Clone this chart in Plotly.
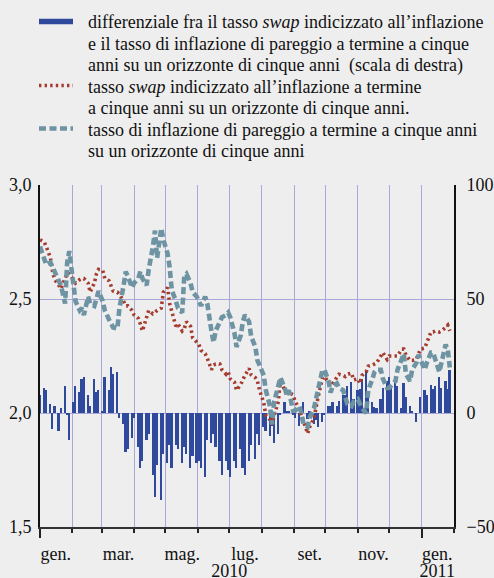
import pandas as pd
import plotly.graph_objects as go

# ---------------- data ----------------
# observations every second business day, Jan 2010 - Jan 2011
dates = pd.bdate_range("2010-01-01", "2011-01-31")[::2]

# spread in basis points (right scale)
spread_bp = [
    8, 11, 10, 4, -7, 3, -8, 2, 12, -1,
    -12, 5, 12, 9, 15, 16, 8, 3, 15, 9,
    10, 1, 16, 10, 20, 17, 18, -2, -5, -17,
    -16, -11, -2, -15, -24, -21, -12, -9, -27, -37,
    -23, -38, -18, -22, -14, -24, -14, -16, -22, -15,
    -18, -24, -19, -22, -21, -24, -28, -12, -13, -9,
    -15, -21, -27, -21, -25, -28, -21, -24, -16, -24,
    -27, -21, -14, -20, -9, -14, -6, -8, -10, -5.5,
    -13, -9, -1, 4.7, 0.5, 1, -1, -2, -5.5, 0.5,
    4.7, -2.6, 1, -5, -3, -6, -4, -1, 3, 3,
    4.7, 3, 5.4, 8, 8, 12, 13.5, 6, 10, 10.5,
    15, 19, 8, 5, 2.5, 2, 6, 11, 14, 15.6,
    11, 15.6, 12, 2, 13, 7, 3, 1, -4, 0,
    7, 10, 8, 12.5, 10.5, 12, 16, 11, 14, 10.5, 19,
]

# 5y5y inflation swap rate (left scale)
swap_5y5y = [
    2.76, 2.75, 2.73, 2.68, 2.62, 2.585, 2.56, 2.545, 2.59, 2.615,
    2.61, 2.585, 2.57, 2.585, 2.59, 2.59, 2.57, 2.53, 2.57, 2.61,
    2.63, 2.625, 2.59, 2.58, 2.56, 2.535, 2.53, 2.52, 2.49, 2.47,
    2.47, 2.45, 2.43, 2.415, 2.39, 2.36, 2.42, 2.45, 2.435, 2.44,
    2.45, 2.46, 2.53, 2.55, 2.48, 2.45, 2.38, 2.39, 2.36, 2.37,
    2.40, 2.38, 2.33, 2.31, 2.30, 2.275, 2.26, 2.24, 2.19, 2.21,
    2.215, 2.215, 2.19, 2.17, 2.18, 2.15, 2.135, 2.10, 2.125, 2.145,
    2.165, 2.195, 2.167, 2.155, 2.14, 2.10, 2.045, 1.99, 1.97, 1.95,
    1.99, 2.05, 2.15, 2.10, 2.09, 2.09, 2.08, 2.05, 2.02, 1.985,
    1.965, 1.91, 1.94, 1.975, 2.03, 2.07, 2.15, 2.16, 2.135, 2.12,
    2.13, 2.155, 2.17, 2.165, 2.16, 2.17, 2.175, 2.145, 2.15, 2.13,
    2.165, 2.18, 2.205, 2.21, 2.215, 2.22, 2.25, 2.265, 2.235, 2.25,
    2.25, 2.25, 2.25, 2.28, 2.28, 2.255, 2.23, 2.23, 2.235, 2.26,
    2.28, 2.285, 2.31, 2.355, 2.355, 2.36, 2.355, 2.36, 2.375, 2.385, 2.36,
]

# 5y5y break-even inflation rate (left scale)
breakeven_5y5y = [
    2.73, 2.68, 2.65, 2.66, 2.64, 2.61, 2.58, 2.56, 2.48, 2.66,
    2.71, 2.54, 2.49, 2.45, 2.46, 2.43, 2.51, 2.48, 2.47, 2.50,
    2.535, 2.49, 2.45, 2.41, 2.39, 2.375, 2.37, 2.46, 2.56, 2.62,
    2.60, 2.55, 2.57, 2.59, 2.62, 2.59, 2.56, 2.63, 2.73, 2.80,
    2.68, 2.81, 2.76, 2.70, 2.64, 2.54, 2.49, 2.46, 2.44, 2.60,
    2.61, 2.57, 2.53, 2.51, 2.49, 2.47, 2.51, 2.48, 2.36, 2.31,
    2.36, 2.40, 2.42, 2.43, 2.44, 2.42, 2.35, 2.29, 2.34, 2.40,
    2.43, 2.40, 2.335, 2.29, 2.23, 2.21, 2.165, 2.10, 2.03, 1.95,
    2.05, 2.12, 2.155, 2.11, 2.08, 2.10, 2.01, 2.01, 2.03, 2.00,
    1.95, 1.94, 1.98, 2.02, 2.06, 2.10, 2.185, 2.19, 2.14, 2.09,
    2.12, 2.13, 2.11, 2.10, 2.07, 2.04, 2.03, 2.05, 2.06, 2.04,
    2.02, 2.00, 2.10, 2.15, 2.18, 2.19, 2.19, 2.15, 2.11, 2.11,
    2.12, 2.14, 2.19, 2.245, 2.26, 2.17, 2.14, 2.19, 2.22, 2.255,
    2.23, 2.19, 2.22, 2.265, 2.265, 2.24, 2.18, 2.22, 2.30, 2.28, 2.20,
]

month_tick_dates = ["2010-01-16", "2010-03-17", "2010-05-17", "2010-07-16",
                    "2010-09-16", "2010-11-16", "2011-01-16"]
month_tick_labels = ["gen.", "mar.", "mag.", "lug.", "set.", "nov.", "gen."]
year_tick_dates = ["2010-07-01", "2011-01-16"]
year_tick_labels = ["2010", "2011"]
left_ticks = [1.5, 2.0, 2.5, 3.0]
right_ticks = [-50, 0, 50, 100]

legend_lines = [
    "differenziale fra il tasso <i>swap</i> indicizzato all’inflazione",
    "e il tasso di inflazione di pareggio a termine a cinque",
    "anni su un orizzonte di cinque anni  (scala di destra)",
    "tasso <i>swap</i> indicizzato all’inflazione a termine",
    "a cinque anni su un orizzonte di cinque anni.",
    "tasso di inflazione di pareggio a termine a cinque anni",
    "su un orizzonte di cinque anni",
]

# ---------------- styling ----------------
BG = "#eeeeee"
GRID = "#a7a7d8"
BLUE = "#2f4a9d"
RED = "#a53a2d"
GREY = "#6e94a4"
FONT = "Liberation Serif"
TXT = "#111111"
RED_DASH = "2.4px,3.2px"
GREY_DASH = "7px,3.5px"

fig = go.Figure()

# bars: spread (bp) expressed on the left scale (percentage points) around 2,0
fig.add_trace(go.Bar(
    x=dates, y=[v / 100 for v in spread_bp], base=2.0,
    marker=dict(color=BLUE, line=dict(width=0)),
    width=1.7 * 86400000, showlegend=False, hoverinfo="skip",
))
fig.add_trace(go.Scatter(
    x=dates, y=swap_5y5y, mode="lines", showlegend=False,
    line=dict(color=RED, width=3.6, dash=RED_DASH), hoverinfo="skip",
))
fig.add_trace(go.Scatter(
    x=dates, y=breakeven_5y5y, mode="lines", showlegend=False,
    line=dict(color=GREY, width=4.6, dash=GREY_DASH), hoverinfo="skip",
))
# empty traces so that the label-only axes (months, years, right scale) are drawn
fig.add_trace(go.Scatter(x=[None], y=[None], xaxis="x2", yaxis="y2",
                         showlegend=False, hoverinfo="skip"))
fig.add_trace(go.Scatter(x=[None], y=[None], xaxis="x3", yaxis="y",
                         showlegend=False, hoverinfo="skip"))

# ---------------- legend (text lines + sample lines) ----------------
L, T, W, H = 40, 185, 414, 342   # plot area in pixels


def px_x(p):
    return (p - L) / W


def px_y(p):
    return (T + H - p) / H


for k, line_text in enumerate(legend_lines):
    fig.add_annotation(
        xref="paper", yref="paper", x=px_x(86), y=px_y(22.0 + 21.55 * k),
        xanchor="left", yanchor="middle", align="left", showarrow=False,
        text=line_text, font=dict(family=FONT, size=18, color=TXT),
    )
legend_samples = [(21.5, BLUE, 5.5, "solid"), (85.5, RED, 3.6, RED_DASH),
                  (128.5, GREY, 4.6, GREY_DASH)]
for yy, col, wd, ds in legend_samples:
    fig.add_shape(type="line", xref="paper", yref="paper",
                  x0=px_x(39), x1=px_x(73), y0=px_y(yy), y1=px_y(yy),
                  line=dict(color=col, width=wd, dash=ds))

fig.update_layout(
    width=494, height=578, autosize=False,
    margin=dict(l=L, r=494 - L - W, t=T, b=578 - T - H, pad=0),
    paper_bgcolor=BG, plot_bgcolor=BG,
    separators=",.",
    font=dict(family=FONT, size=18, color=TXT),
    showlegend=False,
    bargap=0,
    xaxis=dict(
        type="date", range=["2010-01-01", "2011-02-01"],
        tick0="2010-01-01", dtick="M12",
        ticks="outside", ticklen=9, tickwidth=2, tickcolor="#222222",
        showticklabels=False,
        showgrid=True, gridcolor=GRID, gridwidth=1,
        minor=dict(tick0="2010-01-01", dtick="M1", ticks="outside", ticklen=4,
                   tickwidth=1.5, tickcolor="#222222",
                   showgrid=True, gridcolor=GRID, gridwidth=1),
        showline=True, linecolor="#333333", linewidth=1.5,
        zeroline=False, automargin=False,
    ),
    xaxis2=dict(
        type="date", overlaying="x", anchor="y", side="bottom",
        range=["2010-01-01", "2011-02-01"],
        tickvals=month_tick_dates, ticktext=month_tick_labels,
        ticks="", showgrid=False, showline=False, zeroline=False,
        tickfont=dict(family=FONT, size=18, color=TXT),
        ticklabelstandoff=14, automargin=False,
    ),
    xaxis3=dict(
        type="date", overlaying="x", anchor="y", side="bottom",
        range=["2010-01-01", "2011-02-01"],
        tickvals=year_tick_dates, ticktext=year_tick_labels,
        ticks="", showgrid=False, showline=False, zeroline=False,
        tickfont=dict(family=FONT, size=18, color=TXT),
        ticklabelstandoff=31, automargin=False,
    ),
    yaxis=dict(
        range=[1.5, 3.0], tickvals=left_ticks, tickformat=".1f",
        ticks="", showline=True, linecolor="#111111", linewidth=2,
        showgrid=True, gridcolor=GRID, gridwidth=1, zeroline=False,
        tickfont=dict(family=FONT, size=18, color=TXT),
        ticklabelstandoff=3, automargin=False,
    ),
    yaxis2=dict(
        overlaying="y", side="right", anchor="x",
        range=[-50, 100], tickvals=right_ticks,
        ticks="", showline=True, linecolor="#111111", linewidth=2,
        showgrid=False, zeroline=False,
        tickfont=dict(family=FONT, size=18, color=TXT),
        ticklabelstandoff=7, automargin=False,
    ),
)

fig.write_html(
    "out.html",
    config={"displayModeBar": False},
    post_script="document.body.style.margin='0px';"
                "document.body.style.overflow='hidden';",
)
